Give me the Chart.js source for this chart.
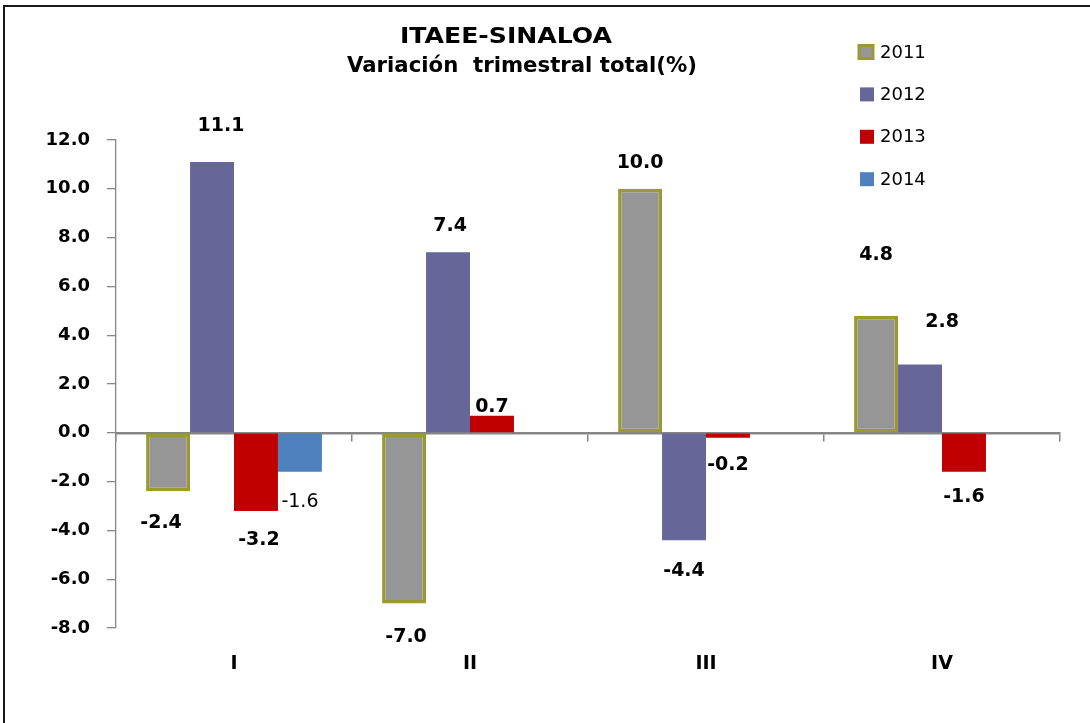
<!DOCTYPE html>
<html>
<head>
<meta charset="utf-8">
<script src="https://cdn.jsdelivr.net/npm/chart.js@4/dist/chart.umd.min.js"></script>
<style>
  html, body { margin: 0; padding: 0; background: #ffffff; }
  #wrap { width: 1090px; height: 723px; position: relative; }
</style>
</head>
<body>
<div id="wrap"><canvas id="c" width="1090" height="723"></canvas></div>
<script>
// ---- data ----
const categories = ['I', 'II', 'III', 'IV'];
const seriesNames = ['2011', '2012', '2013', '2014'];
const values2011 = [-2.4, -7.0, 10.0, 4.8];
const values2012 = [11.1, 7.4, -4.4, 2.8];
const values2013 = [-3.2, 0.7, -0.2, -1.6];
const values2014 = [-1.6, null, null, null];
const yTicksMin = -8;
const yTicksMax = 12;
const yTicksStep = 2;
const titleLine1 = 'ITAEE-SINALOA';
const titleLine2 = 'Variación  trimestral total(%)';

// ---- styles ----
const FONT = '"DejaVu Sans", "Liberation Sans", sans-serif';
const fills = ['#969696', '#666699', '#C00000', '#4F81BD'];
const borders = ['#9B9A32', '#666699', '#C00000', '#4F81BD'];
const borderWidths = [3.5, 0, 0, 0];
// label offsets (px, outward from bar end) and horizontal shifts, per series per category
const labelDy = [[32, 33, 26, 61], [36, 26, 31, 42], [29, 9, 27, 25], [30, 0, 0, 0]];
const labelDx = [[-7, 2, 0, 0], [9, 2, 0, 22], [3, 0, 0, 0], [0, 0, 0, 0]];
const labelBold = [true, true, true, false];
const AXIS_GRAY = '#868686';

const allSeries = [values2011, values2012, values2013, values2014];

function fitText(ctx, text, cx, cy, targetWidth) {
  const w = ctx.measureText(text).width;
  const sx = targetWidth / w;
  ctx.save();
  ctx.translate(cx, cy);
  ctx.scale(sx, 1);
  ctx.textAlign = 'center';
  ctx.fillText(text, 0, 0);
  ctx.restore();
}

const labelPlugin = {
  id: 'valueLabels',
  afterDatasetsDraw(chart) {
    const ctx = chart.ctx;
    ctx.save();
    ctx.fillStyle = '#000';
    ctx.textAlign = 'center';
    ctx.textBaseline = 'middle';
    chart.data.datasets.forEach((ds, di) => {
      const meta = chart.getDatasetMeta(di);
      ctx.font = (labelBold[di] ? 'bold ' : '') + '19px ' + FONT;
      meta.data.forEach((el, i) => {
        const v = ds.data[i];
        if (v === null || v === undefined) return;
        const dy = labelDy[di][i];
        const y = v >= 0 ? el.y - dy : el.y + dy;
        ctx.fillText(v.toFixed(1), el.x + labelDx[di][i], y);
      });
    });
    ctx.restore();
  }
};

const decorPlugin = {
  id: 'decor',
  beforeDraw(chart) {
    const ctx = chart.ctx;
    ctx.save();
    ctx.fillStyle = '#ffffff';
    ctx.fillRect(0, 0, chart.width, chart.height);
    ctx.restore();
  },
  afterDraw(chart) {
    const ctx = chart.ctx;
    ctx.save();
    // frame (left and top edges visible)
    ctx.strokeStyle = '#1a1a1a';
    ctx.lineWidth = 2;
    ctx.beginPath();
    ctx.moveTo(4, chart.height);
    ctx.lineTo(4, 6);
    ctx.lineTo(chart.width, 6);
    ctx.stroke();
    // title
    ctx.fillStyle = '#000';
    ctx.textBaseline = 'middle';
    ctx.font = 'bold 21px ' + FONT;
    fitText(ctx, titleLine1, 506, 38, 212);
    fitText(ctx, titleLine2, 522, 67, 350);
    // legend
    ctx.textAlign = 'left';
    ctx.font = '18px ' + FONT;
    const ly0 = 52, lstep = 42.4;
    chart.data.datasets.forEach((ds, i) => {
      const cy = ly0 + i * lstep;
      if (borderWidths[i] > 0) {
        ctx.fillStyle = fills[i];
        ctx.fillRect(859, cy - 6.5, 14, 13);
        ctx.strokeStyle = borders[i];
        ctx.lineWidth = 3;
        ctx.strokeRect(859, cy - 6.5, 14, 13);
      } else {
        ctx.fillStyle = fills[i];
        ctx.fillRect(860, cy - 7, 14, 14);
      }
      ctx.fillStyle = '#000';
      ctx.fillText(ds.label, 880, cy + 1);
    });
    ctx.restore();
  }
};

new Chart(document.getElementById('c'), {
  type: 'bar',
  data: {
    labels: categories,
    datasets: allSeries.map((vals, i) => ({
      label: seriesNames[i],
      data: vals,
      backgroundColor: fills[i],
      borderColor: borders[i],
      borderWidth: borderWidths[i],
      borderSkipped: false,
      xAxisID: 'x',
      yAxisID: 'y',
      categoryPercentage: 0.745,
      barPercentage: 1.0
    }))
  },
  options: {
    responsive: false,
    animation: false,
    devicePixelRatio: 1,
    layout: { padding: { left: 0, right: 30, top: 140, bottom: 0 } },
    plugins: {
      legend: { display: false },
      title: { display: false },
      tooltip: { enabled: false }
    },
    scales: {
      x: {
        type: 'category',
        position: 'bottom',
        grid: { display: false, drawTicks: false },
        border: { display: false },
        ticks: {
          color: '#000',
          font: { family: FONT, size: 19, weight: 'bold' },
          padding: 25,
          maxRotation: 0
        },
        afterFit(scale) { scale.height = 95; }
      },
      x0: {
        type: 'category',
        axis: 'x',
        labels: categories,
        position: { y: 0 },
        offset: true,
        ticks: { display: false },
        grid: {
          display: true,
          drawOnChartArea: false,
          drawTicks: true,
          tickLength: 7,
          color: AXIS_GRAY,
          lineWidth: 1.5,
          offset: true
        },
        border: { display: true, color: AXIS_GRAY, width: 2.5 }
      },
      y: {
        type: 'linear',
        position: 'left',
        min: yTicksMin,
        max: yTicksMax,
        ticks: {
          stepSize: yTicksStep,
          color: '#000',
          font: { family: FONT, size: 18, weight: 'bold' },
          padding: 17,
          callback: (v) => Number(v).toFixed(1)
        },
        grid: {
          display: true,
          drawOnChartArea: false,
          drawTicks: true,
          tickLength: 9,
          color: AXIS_GRAY,
          lineWidth: 1.3
        },
        border: { display: true, color: AXIS_GRAY, width: 1.3 },
        afterFit(scale) { scale.width = 116; }
      }
    }
  },
  plugins: [labelPlugin, decorPlugin]
});
</script>
</body>
</html>
